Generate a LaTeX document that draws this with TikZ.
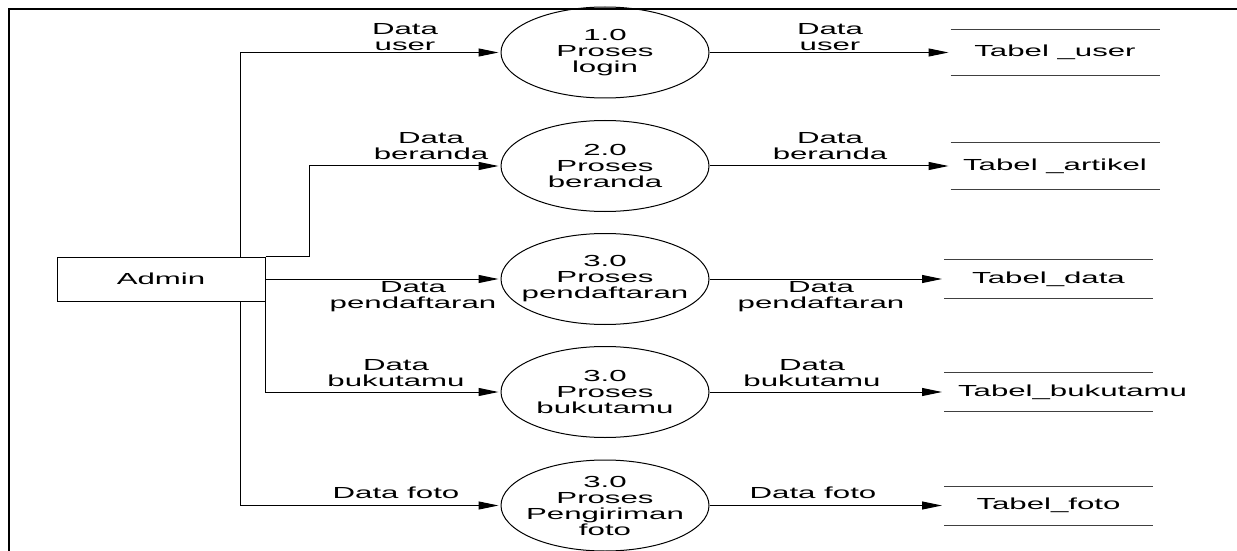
\documentclass[tikz,border=0pt]{standalone}
\usepackage{fontspec}
\setmainfont{Liberation Sans}[FakeStretch=1.95]
\usetikzlibrary{shapes.geometric,arrows.meta}

\tikzset{
  proc/.style={draw,ellipse,minimum width=104pt,minimum height=45.5pt,inner sep=0pt},
  entity/.style={draw,minimum width=104pt,minimum height=22pt,inner sep=0pt},
  store/.style={minimum width=104pt,minimum height=#1,inner sep=0pt},
  store/.default=22.5pt,
  storeline/.style={draw=black!75},
  flow/.style={-{Triangle[length=10pt,width=4pt]},shorten >=1pt},
  lbl/.style={align=center,inner sep=0pt}
}

\begin{document}
\begin{tikzpicture}[x=0.5pt,y=-0.5pt,font=\fontsize{8}{8}\selectfont,line width=0.5pt]
\useasboundingbox (0,0) rectangle (1237,551);
% frame
\draw[line width=1.2pt] (9,551) -- (9,9) -- (1237,9);

% entity
\node[entity] (admin) at (161,279) {Admin};

% processes
\node[proc,label={[lbl]center:1.0\\Proses\\login}] (p1) at (605,52.5) {};
\node[proc,label={[lbl]center:2.0\\Proses\\beranda}] (p2) at (605,166) {};
\node[proc,label={[lbl]center:3.0\\Proses\\pendaftaran}] (p3) at (605,279) {};
\node[proc,label={[lbl]center:3.0\\Proses\\bukutamu}] (p4) at (605,392) {};
\node[proc,label={[lbl]center:3.0\\Proses\\Pengiriman\\foto}] (p5) at (605,505.5) {};

% data stores
\node[store,label={[lbl]center:Tabel \_user}] (s1) at (1055,52.5) {};
\node[store,label={[lbl]center:Tabel \_artikel}] (s2) at (1055,166) {};
\node[store=19pt,label={[lbl]center:Tabel\_data}] (s3) at (1048.5,279) {};
\node[store=19pt,label={[lbl,xshift=12pt]center:Tabel\_bukutamu}] (s4) at (1048.5,392) {};
\node[store=19pt,label={[lbl]center:Tabel\_foto}] (s5) at (1048.5,505.5) {};
\foreach \s in {s1,s2,s3,s4,s5}
  \draw[storeline] (\s.north west) -- (\s.north east) (\s.south west) -- (\s.south east);

% flows admin -> proses
\draw[flow] ([xshift=-12.5pt]admin.north east) |- (p1);
\draw[flow] (admin.north east) -- ++(22pt,0) |- (p2);
\draw[flow] (admin) -- (p3);
\draw[flow] (admin.south east) |- (p4);
\draw[flow] ([xshift=-12.5pt]admin.south east) |- (p5);

% flows proses -> tabel
\foreach \i in {1,...,5}
  \draw[flow] (p\i) -- (s\i);

% labels
\node[lbl] (in1) at (405,37.5) {Data\\user};
\node[lbl] (in2) at (431,146) {Data\\beranda};
\node[lbl] (in3) at (413,297) {Data\\pendaftaran};
\node[lbl] (in4) at (396,373.5) {Data\\bukutamu};
\node[lbl] (in5) at (396,493) {Data foto};
\node[lbl] (out1) at (830,37.5) {Data\\user};
\node[lbl] (out2) at (830,146) {Data\\beranda};
\node[lbl] (out3) at (821,297) {Data\\pendaftaran};
\node[lbl] (out4) at (812,373.5) {Data\\bukutamu};
\node[lbl] (out5) at (813,493) {Data foto};
\end{tikzpicture}
\end{document}
